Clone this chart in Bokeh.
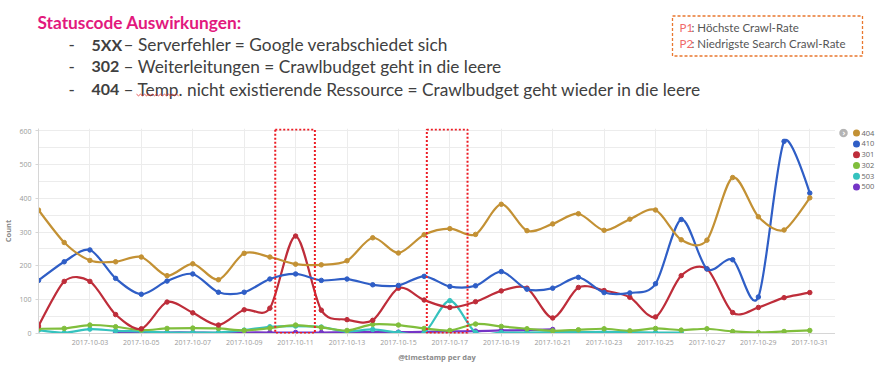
import numpy as np
from bokeh.plotting import figure
from bokeh.layouts import column, row
from bokeh.models import BoxAnnotation, SingleIntervalTicker, FixedTicker, DatetimeTickFormatter
from bokeh.core.properties import value
from bokeh.embed import file_html
from bokeh.resources import INLINE

# ---------------- data ----------------
dates = ["2017-10-01", "2017-10-02", "2017-10-03", "2017-10-04", "2017-10-05", "2017-10-06",
         "2017-10-07", "2017-10-08", "2017-10-09", "2017-10-10", "2017-10-11", "2017-10-12",
         "2017-10-13", "2017-10-14", "2017-10-15", "2017-10-16", "2017-10-17", "2017-10-18",
         "2017-10-19", "2017-10-20", "2017-10-21", "2017-10-22", "2017-10-23", "2017-10-24",
         "2017-10-25", "2017-10-26", "2017-10-27", "2017-10-28", "2017-10-29", "2017-10-30",
         "2017-10-31"]

s404 = [365, 269, 216, 212, 226, 171, 206, 159, 237, 226, 205, 203, 215, 283, 238, 292,
        310, 293, 382, 304, 324, 354, 305, 338, 365, 277, 276, 461, 345, 306, 401]
s410 = [157, 212, 247, 163, 116, 155, 176, 122, 122, 161, 176, 157, 161, 144, 142, 169,
        139, 141, 183, 131, 134, 166, 121, 120, 147, 337, 191, 218, 108, 568, 415]
s301 = [22, 154, 154, 56, 14, 93, 61, 25, 70, 75, 288, 69, 41, 39, 134, 99,
        77, 94, 126, 134, 46, 136, 127, 107, 49, 171, 191, 62, 77, 106, 121]
s302 = [14, 15, 25, 20, 10, 15, 16, 15, 9, 16, 25, 18, 9, 27, 25, 15,
        9, 28, 21, 14, 8, 11, 14, 8, 15, 10, 14, 6, 3, 6, 9]
s503 = [10, 2, 13, 8, 6, 3, 3, 3, 10, 20, 22, 19, 6, 12, 3, 2,
        97, 3, 3, 3, 4, 4, 5, 4, 3, 3, None, None, None, None, None]
s500 = [None, None, None, 3, 3, 3, 3, 2, 3, 3, 3, 3, 4, 4, 4, 5,
        6, 7, 9, 10, 12, None, None, None, None, None, None, None, None, None, None]

series_names = ["404", "410", "301", "302", "503", "500"]
series_values = [s404, s410, s301, s302, s503, s500]
colors = ["#C39134", "#2F5EC6", "#BE2D3A", "#80BE3C", "#35C2BE", "#7535C6"]

x_tick_labels = ["2017-10-03", "2017-10-05", "2017-10-07", "2017-10-09", "2017-10-11",
                 "2017-10-13", "2017-10-15", "2017-10-17", "2017-10-19", "2017-10-21",
                 "2017-10-23", "2017-10-25", "2017-10-27", "2017-10-29", "2017-10-31"]

# highlighted periods (P1 / P2)
highlight_periods = [("2017-10-10T05:00", "2017-10-11T18:00"),
                     ("2017-10-16T02:30", "2017-10-17T16:30")]

title_text = "Statuscode Auswirkungen:"
bullet_codes = ["5XX", "302", "404"]
bullet_texts = ["– Serverfehler = Google verabschiedet sich",
                "– Weiterleitungen = Crawlbudget geht in die leere",
                "– Temp. nicht existierende Ressource = Crawlbudget geht wieder in die leere"]
note_keys = ["P1", "P2"]
note_texts = [": Höchste Crawl-Rate", ": Niedrigste Search Crawl-Rate"]


def to_ms(s):
    return float(np.datetime64(s, "ms").astype("int64"))


xs_all = [to_ms(d) for d in dates]
DAY = 86400000.0

# ---------------- layout geometry (page pixels) ----------------
TOP_H = 128            # text area: page y 0..128
CHART_W, CHART_H = 835, 236
LEG_W = 52
FL, FB = 34, 30
TOTAL_W = CHART_W + LEG_W

# ---------------- top text area ----------------
top = figure(width=TOTAL_W, height=TOP_H, output_backend="svg", toolbar_location=None,
             x_range=(0, TOTAL_W), y_range=(TOP_H, 0),
             x_axis_location=None, y_axis_location=None, min_border=0)
top.grid.visible = False
top.outline_line_color = None

top.text(x=[37], y=[22], text=[title_text], text_font=value("Lato"), text_font_size="17.3px",
         text_font_style="bold", text_color="#E2197D", text_baseline="alphabetic")
row_y = [43.5, 66, 88.5]
top.text(x=[68] * 3, y=row_y, text=["-"] * 3, text_font=value("Lato"), text_font_size="17px",
         text_color="#404040", text_baseline="alphabetic")
top.text(x=[91] * 3, y=row_y, text=bullet_codes, text_font=value("Lato"), text_font_size="16px",
         text_font_style="bold", text_color="#404040", text_baseline="alphabetic")
top.text(x=[123] * 3, y=row_y, text=bullet_texts, text_font=value("Lato"), text_font_size="17.3px",
         text_color="#404040", text_baseline="alphabetic")
# spell-check squiggle under "Temp."
zx = np.linspace(136, 178, 22)
zy = 94.5 + np.where(np.arange(22) % 2 == 0, -0.8, 0.8)
top.line(zx, zy, line_color="#E03030", line_width=0.8)

# P1/P2 note box
top.quad(left=[672], right=[862], top=[15.5], bottom=[55.5], fill_alpha=0,
         line_color="#E9772E", line_width=1.3, line_dash="3 2")
top.text(x=[679, 679], y=[26.5, 42.5], text=note_keys, text_font=value("Lato"),
         text_font_size="11.5px", text_color="#F06A6A", text_baseline="alphabetic")
top.text(x=[691, 691], y=[26.5, 42.5], text=note_texts, text_font=value("Lato"),
         text_font_size="11.5px", text_color="#555555", text_baseline="alphabetic")

# ---------------- chart ----------------
p = figure(width=CHART_W, height=CHART_H, output_backend="svg", toolbar_location=None,
           x_axis_type="datetime",
           x_range=(xs_all[0], xs_all[-1] + DAY), y_range=(0, 606),
           min_border_left=FL, min_border_right=0, min_border_top=0, min_border_bottom=FB)
p.outline_line_color = None

p.xaxis.ticker = FixedTicker(ticks=[to_ms(t) for t in x_tick_labels])
p.xaxis.formatter = DatetimeTickFormatter(days="%Y-%m-%d", months="%Y-%m-%d", hours="%Y-%m-%d")
p.xaxis.axis_label = "@timestamp per day"
p.yaxis.axis_label = "Count"
p.yaxis.ticker = SingleIntervalTicker(interval=100, num_minor_ticks=2)
for ax in (p.xaxis, p.yaxis):
    ax.axis_line_color = "#d6d6d6"
    ax.major_tick_line_color = "#d6d6d6"
    ax.minor_tick_line_color = None
    ax.major_tick_in = 0
    ax.major_tick_out = 3
    ax.major_label_text_font = "Open Sans"
    ax.major_label_text_font_size = "7px"
    ax.major_label_text_color = "#9a9a9a"
    ax.axis_label_text_font = "Open Sans"
    ax.axis_label_text_font_size = "7.5px"
    ax.axis_label_text_font_style = "bold"
    ax.axis_label_text_color = "#8a8a8a"
p.xaxis.major_label_standoff = 3
p.xaxis.axis_label_standoff = 4
p.yaxis.major_label_standoff = 3
p.yaxis.axis_label_standoff = 3
p.xgrid.ticker = p.xaxis.ticker
p.xgrid.grid_line_color = "#ececec"
p.ygrid.grid_line_color = "#ececec"
p.ygrid.minor_grid_line_color = "#ececec"


def cardinal_beziers(xs, ys, a=0.15):
    """Bezier segments of a cardinal spline (tension 0.7) through the points."""
    n = len(xs)
    segs = []
    if n < 2:
        return segs
    pts = list(zip(xs, ys))
    tan = [(0.0, 0.0)] * n
    for i in range(1, n - 1):
        tan[i] = (a * (xs[i + 1] - xs[i - 1]), a * (ys[i + 1] - ys[i - 1]))
    for i in range(n - 1):
        p0, p1 = pts[i], pts[i + 1]
        if n == 2:
            c0, c1 = p0, p1
        elif i == 0 or i == n - 2:
            if i == 0:
                t1 = tan[1]
                q = (p1[0] - t1[0] * 2 / 3, p1[1] - t1[1] * 2 / 3)
            else:
                t0 = tan[n - 2]
                q = (p0[0] + t0[0] * 2 / 3, p0[1] + t0[1] * 2 / 3)
            c0 = (p0[0] + 2 / 3 * (q[0] - p0[0]), p0[1] + 2 / 3 * (q[1] - p0[1]))
            c1 = (p1[0] + 2 / 3 * (q[0] - p1[0]), p1[1] + 2 / 3 * (q[1] - p1[1]))
        else:
            t0, t1 = tan[i], tan[i + 1]
            c0 = (p0[0] + t0[0], p0[1] + t0[1])
            c1 = (p1[0] - t1[0], p1[1] - t1[1])
        segs.append((p0, p1, c0, c1))
    return segs


for name, vals, col in reversed(list(zip(series_names, series_values, colors))):
    xs = [x for x, v in zip(xs_all, vals) if v is not None]
    ys = [v for v in vals if v is not None]
    segs = cardinal_beziers(xs, ys)
    p.bezier(x0=[s[0][0] for s in segs], y0=[s[0][1] for s in segs],
             x1=[s[1][0] for s in segs], y1=[s[1][1] for s in segs],
             cx0=[s[2][0] for s in segs], cy0=[s[2][1] for s in segs],
             cx1=[s[3][0] for s in segs], cy1=[s[3][1] for s in segs],
             line_color=col, line_width=2.2)
    p.scatter(xs, ys, size=4.5, marker="circle", fill_color=col, line_color=col)

for l, r in highlight_periods:
    p.add_layout(BoxAnnotation(left=to_ms(l), right=to_ms(r), bottom=1.5, top=603,
                               fill_alpha=0, line_color="#EC1C24", line_alpha=1.0,
                               line_width=2, line_dash="2 2"))

# ---------------- legend panel ----------------
leg = figure(width=LEG_W, height=CHART_H, output_backend="svg", toolbar_location=None,
             x_range=(CHART_W, TOTAL_W), y_range=(TOP_H + CHART_H, TOP_H),
             x_axis_location=None, y_axis_location=None, min_border=0)
leg.grid.visible = False
leg.outline_line_color = None
leg.scatter([843], [133.3], size=8.5, marker="circle", fill_color="#b4b4b4", line_color=None)
leg.text(x=[843.4], y=[133.6], text=["›"], text_font=value("DejaVu Sans"), text_font_size="8px",
         text_font_style="bold", text_color="white", text_align="center", text_baseline="middle")
leg_y = [133.3 + i * 12.4 for i in range(len(series_names))]
leg.scatter([856] * len(series_names), leg_y, size=7, marker="circle",
            fill_color=colors, line_color=None)
leg.text(x=[861] * len(series_names), y=leg_y, text=series_names, text_font=value("Open Sans"),
         text_font_size="7.5px", text_color="#666666", text_baseline="middle")

layout = column(top, row(p, leg, spacing=0), spacing=0)
open("out.html", "w").write(file_html(layout, INLINE))
